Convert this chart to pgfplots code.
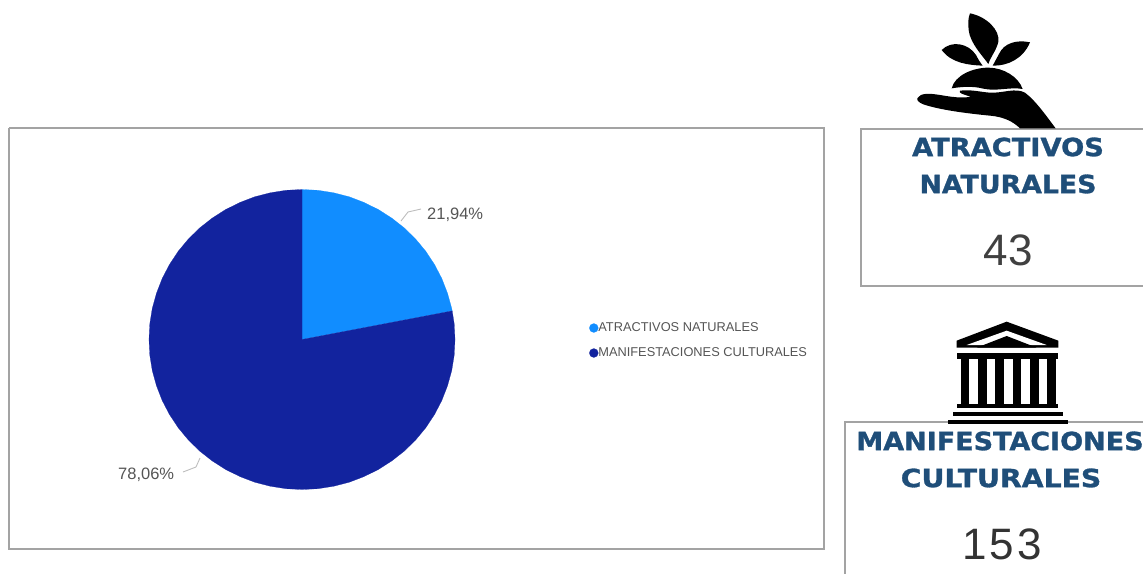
\documentclass[border=0pt]{standalone}
\usepackage{pgfplots}
\pgfplotsset{compat=1.18}
\usepackage{fontspec}
\setmainfont{Liberation Sans}
\newfontfamily\headfont[BoldFeatures={FakeBold=1.2}]{DejaVu Sans}
\definecolor{lightslice}{HTML}{118DFF}
\definecolor{darkslice}{HTML}{12239E}
\definecolor{headblue}{HTML}{1F4E79}
\definecolor{frame}{HTML}{A3A3A3}
\definecolor{lbl}{HTML}{555555}
\definecolor{leader}{HTML}{BDBDBD}
\newcommand{\head}[2]{\scalebox{#1}[1]{\fontsize{25}{25}\selectfont\headfont\bfseries #2}}
\begin{document}
\begin{tikzpicture}
\useasboundingbox (0,0) rectangle (1143pt,574pt);
\begin{axis}[
  at={(0,0)},anchor=south west,
  scale only axis,width=1143pt,height=574pt,
  xmin=0,xmax=1143,ymin=0,ymax=574,y dir=reverse,
  hide axis,clip=false,
  legend cell align=left,
  legend style={at={(axis cs:589,340.5)},anchor=west,draw=none,fill=none,
    text=lbl,font=\fontsize{12.8}{12.8}\selectfont,inner sep=0pt,
    nodes={inner sep=0pt,minimum height=25pt,anchor=west},
    /tikz/every even column/.append style={column sep=3pt}},
  legend image code/.code={\fill[#1] (4.5pt,0pt) circle (4.5pt);},
]
% pie slices: 43 (21,94 %) and 153 (78,06 %)
\addplot[fill=lightslice,draw=lightslice,line width=0.2pt] coordinates {
(302,339.5)(302,189.5)(318.0,190.3)(333.8,192.8)(349.3,196.8)(364.2,202.5)(378.5,209.6)(391.9,218.2)(404.4,228.0)(415.7,239.1)(425.8,251.3)(434.5,264.5)(441.8,278.5)(447.5,293.2)(451.7,308.3)(452.2,310.9)(302,339.5)};
\addlegendentry{ATRACTIVOS NATURALES}
\addplot[fill=darkslice,draw=darkslice,line width=0.2pt] coordinates {
(302,339.5)(452.2,310.9)(454.2,323.8)(455,339.5)(454.2,355.2)(451.7,370.7)(447.5,385.8)(441.8,400.5)(434.5,414.5)(425.8,427.7)(415.7,439.9)(404.4,451.0)(391.9,460.8)(378.5,469.4)(364.2,476.5)(349.3,482.2)(333.8,486.2)(318.0,488.7)(302,489.5)(286.0,488.7)(270.2,486.2)(254.7,482.2)(239.8,476.5)(225.5,469.4)(212.1,460.8)(199.6,451.0)(188.3,439.9)(178.2,427.7)(169.5,414.5)(162.2,400.5)(156.5,385.8)(152.3,370.7)(149.8,355.2)(149,339.5)(149.8,323.8)(152.3,308.3)(156.5,293.2)(162.2,278.5)(169.5,264.5)(178.2,251.3)(188.3,239.1)(199.6,228.0)(212.1,218.2)(225.5,209.6)(239.8,202.5)(254.7,196.8)(270.2,192.8)(286.0,190.3)(302,189.5)(302,339.5)};
\addlegendentry{MANIFESTACIONES CULTURALES}
% leader lines
\addplot[forget plot,leader,line width=0.9pt] coordinates {(401,221)(408,212)(421,209)};
\addplot[forget plot,leader,line width=0.9pt] coordinates {(200,458)(196,467)(183,472)};
% frames
\addplot[forget plot,frame,line width=1.3pt] coordinates {(9,128)(824,128)(824,549)(9,549)(9,128)};
\addplot[forget plot,frame,line width=1.3pt] coordinates {(1143,129)(861,129)(861,286)(1143,286)};
\addplot[forget plot,frame,line width=1.3pt] coordinates {(1143,422)(845,422)(845,574)};
% labels
\node[anchor=west,inner sep=0pt,text=lbl,font=\fontsize{16.5}{16.5}\selectfont] at (axis cs:427,214.5) {21,94\%};
\node[anchor=west,inner sep=0pt,text=lbl,font=\fontsize{16.5}{16.5}\selectfont] at (axis cs:118,475) {78,06\%};
\node[text=headblue] at (axis cs:1008,147) {\head{1.09}{ATRACTIVOS}};
\node[text=headblue] at (axis cs:1008,184) {\head{1.07}{NATURALES}};
\node[text=headblue] at (axis cs:1000,441) {\head{1.08}{MANIFESTACIONES}};
\node[text=headblue] at (axis cs:1001,478) {\head{1.13}{CULTURALES}};
\node[text=black!75,font=\fontsize{44}{44}\selectfont] at (axis cs:1008,250) {43};
\node[text=black!80,font=\fontsize{44}{44}\selectfont] at (axis cs:1002,544) {1\kern3pt 5\kern3pt 3};
\end{axis}
% plant and hand (zoom coordinates)
\begin{scope}[shift={(840pt,574pt)},x=0.33333pt,y=-0.33333pt]
\fill[black] (390,40) .. controls (440,50) and (480,90) .. (475,125) .. controls (470,150) and (452,170) .. (445,192) .. controls (430,170) and (390,130) .. (386,90) .. controls (384,70) and (384,55) .. (390,40) -- cycle;
\fill[black] (305,150) .. controls (335,120) and (385,130) .. (408,165) .. controls (415,178) and (420,188) .. (428,197) .. controls (385,195) and (335,190) .. (305,150) -- cycle;
\fill[black] (570,127) .. controls (530,118) and (492,130) .. (478,160) .. controls (470,175) and (463,188) .. (458,197) .. controls (505,198) and (550,175) .. (570,127) -- cycle;
\fill[black] (335,265) .. controls (345,225) and (400,203) .. (445,203) .. controls (490,203) and (535,230) .. (548,267) .. controls (510,260) and (470,275) .. (430,266) .. controls (400,258) and (365,260) .. (335,265) -- cycle;
\fill[black] (232,295) .. controls (240,278) and (270,280) .. (300,285) .. controls (330,290) and (365,296) .. (392,290) .. controls (370,283) and (355,280) .. (360,272) .. controls (395,268) and (420,276) .. (450,278) .. controls (490,280) and (525,262) .. (555,278) .. controls (590,305) and (620,350) .. (647,385) -- (540,385) .. controls (520,365) and (490,350) .. (450,347) .. controls (380,340) and (300,330) .. (250,313) .. controls (238,308) and (230,302) .. (232,295) -- cycle;
\end{scope}
% temple
\begin{scope}[shift={(840pt,274pt)},x=0.33333pt,y=-0.33333pt]
\fill[black] (500,65) -- (655,122) -- (655,143) -- (350,143) -- (350,122) -- cycle;
\fill[white] (500,92) -- (620,135) -- (380,135) -- cycle;
\fill[black] (500,108) -- (590,143) -- (410,143) -- cycle;
\fill[black] (350,158) rectangle (655,178);
\foreach \c in {362,414,466,518,570,622}{\fill[black] (\c,178) rectangle (\c+26,315);}
\fill[black] (350,312) rectangle (655,323);
\fill[black] (338,335) rectangle (668,347);
\fill[black] (325,360) rectangle (685,371);
\end{scope}
\end{tikzpicture}
\end{document}
